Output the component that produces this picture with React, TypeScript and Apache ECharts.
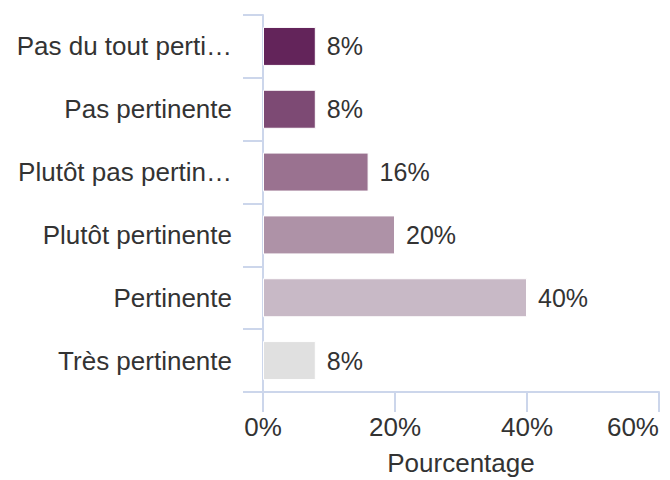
import React, { useEffect, useRef } from "react";
import * as echarts from "echarts";

const categories = [
  "Pas du tout perti…",
  "Pas pertinente",
  "Plutôt pas pertin…",
  "Plutôt pertinente",
  "Pertinente",
  "Très pertinente",
];
const values = [8, 8, 16, 20, 40, 8];
const barColors = ["#63245a", "#7d4a74", "#9a7290", "#ae92a7", "#c8b9c6", "#e0e0e0"];
const xTicks = [0, 20, 40, 60];

const FONT = "'Liberation Sans', Arial, Helvetica, sans-serif";
const AXIS_COLOR = "#ccd6eb";
const TEXT_COLOR = "#333333";

export default function App() {
  const ref = useRef<HTMLDivElement>(null);
  useEffect(() => {
    document.body.style.margin = "0";
    if (!ref.current) return;
    const chart = echarts.init(ref.current, undefined, { renderer: "svg" });
    chart.setOption({
      animation: false,
      backgroundColor: "#ffffff",
      textStyle: { fontFamily: FONT },
      grid: {
        left: 263,
        right: 11,
        top: 15,
        bottom: 88,
        containLabel: false,
        outerBoundsMode: "none",
      },
      xAxis: {
        type: "value",
        min: xTicks[0],
        max: xTicks[xTicks.length - 1],
        interval: xTicks[1] - xTicks[0],
        name: "Pourcentage",
        nameLocation: "middle",
        nameGap: 59,
        nameTextStyle: { fontSize: 26, lineHeight: 24, color: TEXT_COLOR, fontFamily: FONT },
        axisLine: { show: true, lineStyle: { color: AXIS_COLOR, width: 2 } },
        axisTick: { show: true, length: 20, lineStyle: { color: AXIS_COLOR, width: 2 } },
        axisLabel: {
          formatter: "{value}%",
          fontSize: 26,
          color: TEXT_COLOR,
          margin: 22,
          fontFamily: FONT,
          showMaxLabel: true,
          alignMaxLabel: "right",
        },
        splitLine: { show: false },
      },
      yAxis: {
        type: "category",
        data: categories,
        inverse: true,
        axisLine: { show: true, lineStyle: { color: AXIS_COLOR, width: 2 } },
        axisTick: { show: true, length: 20, lineStyle: { color: AXIS_COLOR, width: 2 } },
        axisLabel: {
          fontSize: 26,
          color: TEXT_COLOR,
          margin: 31,
          fontFamily: FONT,
          padding: [5, 0, 0, 0],
        },
        splitLine: { show: false },
      },
      series: [
        {
          type: "bar",
          barWidth: 39,
          data: values.map((v, i) => ({
            value: v,
            itemStyle: { color: barColors[i], borderColor: "#ffffff", borderWidth: 1 },
          })),
          label: {
            show: true,
            position: "right",
            distance: 11,
            formatter: "{c}%",
            fontSize: 25,
            color: TEXT_COLOR,
            fontFamily: FONT,
          },
        },
      ],
    });
    return () => chart.dispose();
  }, []);
  return <div ref={ref} style={{ width: 670, height: 480 }} />;
}
